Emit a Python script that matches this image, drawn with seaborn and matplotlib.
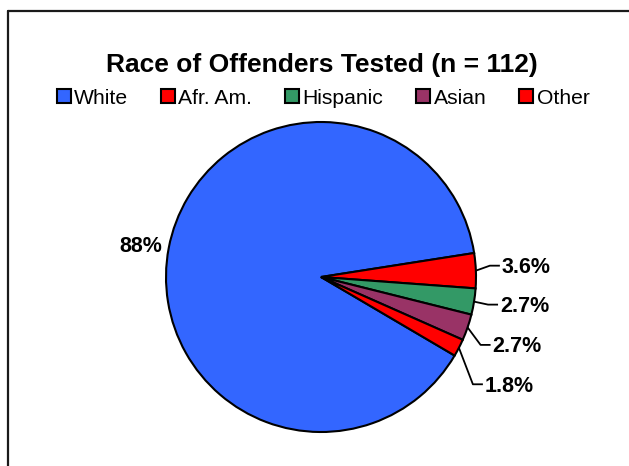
import matplotlib
matplotlib.use("Agg")
import numpy as np
import matplotlib.pyplot as plt
import seaborn as sns
from matplotlib.lines import Line2D

# Chart data
categories = ["White", "Afr. Am.", "Hispanic", "Asian", "Other"]
percents = [88, 3.6, 2.7, 2.7, 1.8]
label_texts = ["88%", "3.6%", "2.7%", "2.7%", "1.8%"]
colors = ["#3366FF", "#FF0000", "#339966", "#993366", "#FF0000"]
title = "Race of Offenders Tested (n = 112)"

sns.set_theme(style="white")
plt.rcParams["font.family"] = ["Liberation Sans", "DejaVu Sans"]
plt.rcParams["text.color"] = "black"

W, H, DPI = 629, 466, 100
fig = plt.figure(figsize=(W / DPI, H / DPI), dpi=DPI)
fig.patch.set_facecolor("white")

# pie placement in pixels (y measured from the top)
cx, cy, R = 321, 277, 155
ax = fig.add_axes([0, 0, 1, 1])

# White slice closes just above the horizontal on the right; slices run clockwise
white_end_angle = 8.9
total = float(sum(percents))
start = white_end_angle + percents[0] / total * 360.0

wedges, _ = ax.pie(
    percents, colors=colors, startangle=start, counterclock=False, radius=1.0,
    wedgeprops=dict(edgecolor="black", linewidth=1.5),
)
ax.set_xlim(-cx / R, (W - cx) / R)
ax.set_ylim(-(H - cy) / R, cy / R)
ax.set_aspect("auto")
ax.set_axis_off()

# label anchors relative to each slice's rim midpoint, in pixels (x right, y down)
label_offsets = [(-6.5, 4), (26, 2.5), (26, 10.5), (25, 25), (26, 44)]
label_fs = 15.5
half_cap = 7.5  # px, half the digit height

for w, txt, (ox, oy) in zip(wedges, label_texts, label_offsets):
    mid = np.deg2rad((w.theta1 + w.theta2) / 2.0)
    ex, ey = np.cos(mid), np.sin(mid)
    tx, ty = ex + ox / R, ey - oy / R
    if ox < 0:
        ax.text(tx, ty, txt, ha="right", va="baseline", fontsize=label_fs,
                fontweight="bold", color="black")
    else:
        ax.text(tx, ty, txt, ha="left", va="baseline", fontsize=label_fs,
                fontweight="bold", color="black")
        ly = ty + half_cap / R
        ax.plot([ex, tx - 12 / R, tx - 2 / R], [ey, ly, ly],
                color="black", lw=1.3, solid_capstyle="butt", clip_on=False)

fig.text(322 / W, 1 - 72 / H, title, ha="center", va="baseline",
         fontsize=19, fontweight="bold", color="black")

fig.legend(
    handles=wedges, labels=categories, ncol=5, loc="center",
    bbox_to_anchor=(323 / W, 1 - 98 / H), frameon=False, fontsize=15.2,
    handlelength=0.68, handleheight=0.68, handletextpad=0.15,
    columnspacing=1.55, borderpad=0, borderaxespad=0, labelcolor="black",
)

# chart-area border along the top and left edges
fig.add_artist(Line2D([8 / W, 1.0], [1 - 11 / H, 1 - 11 / H], transform=fig.transFigure,
                      color="#1a1a1a", lw=1.6))
fig.add_artist(Line2D([8 / W, 8 / W], [1 - 11 / H, 0.0], transform=fig.transFigure,
                      color="#1a1a1a", lw=1.6))

fig.savefig("out.png", dpi=DPI, facecolor="white")
